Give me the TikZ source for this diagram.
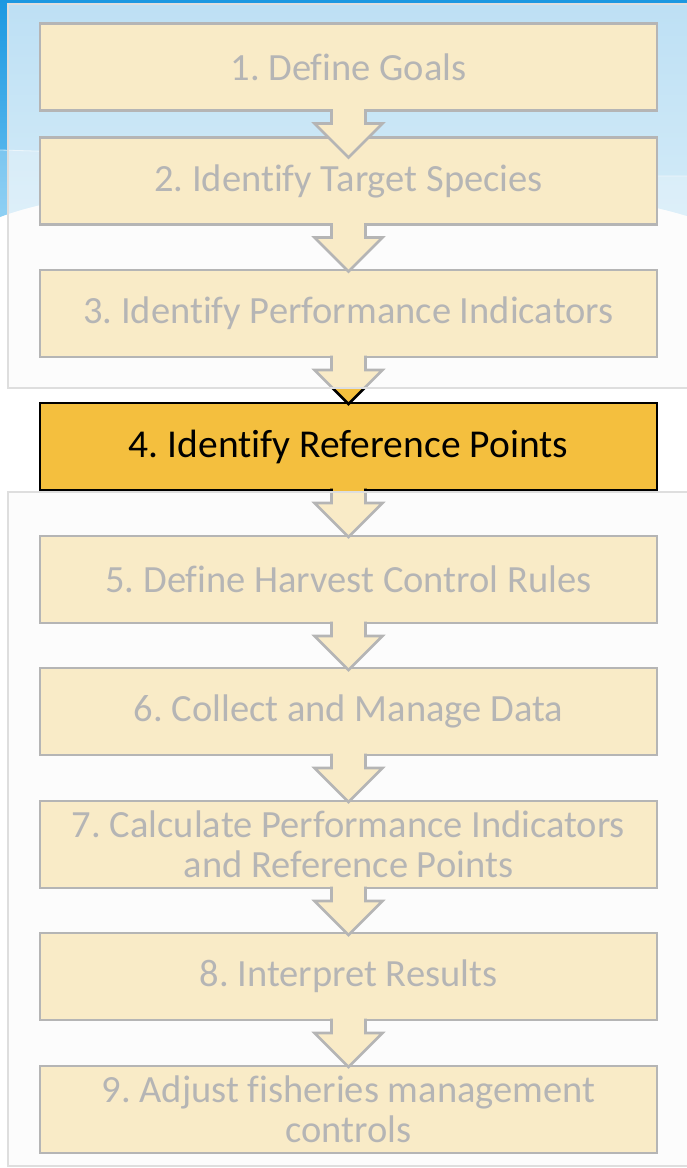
\documentclass[tikz,border=0pt]{standalone}
\usepackage{fontspec}
\setmainfont{Carlito}[Ligatures=NoCommon]
\usetikzlibrary{calc}
\frenchspacing
\definecolor{boxfill}{RGB}{244,191,62}
\definecolor{skytop}{RGB}{28,152,225}
\definecolor{skybot}{RGB}{105,192,240}
\definecolor{panelline}{RGB}{222,222,222}
\definecolor{overlaycol}{RGB}{252,252,252}
\newcommand{\steparrow}[1]{%
  \fill[arrowfill] ($(#1.south)+(-17,-2)$) -- ++(0,15) -- ++(-17,0) -- ++(34,34) -- ++(34,-34) -- ++(-17,0) -- ++(0,-15) -- cycle;
  \draw[arrowline] ($(#1.south)+(-17,-1.3)$) -- ++(0,14.3) -- ++(-17,0) -- ++(34,34) -- ++(34,-34) -- ++(-17,0) -- ++(0,-14.3);}
\begin{document}
\begin{tikzpicture}[x=1pt,y=-1pt,
  stepbox/.style={draw=black, line width=2.6pt, fill=boxfill, minimum width=617pt, minimum height=87pt,
    inner sep=0pt, outer sep=0pt, align=center, font=\fontsize{38.5}{40}\selectfont\frenchspacing, text=black},
  hibox/.style={stepbox, font=\fontsize{39.5}{44}\selectfont\frenchspacing},
  arrowfill/.style={fill=boxfill},
  arrowline/.style={draw=black, line width=2.6pt},
  panel/.style={fill=overlaycol, fill opacity=0.72, draw=panelline, line width=2pt}]
\useasboundingbox (0,0) rectangle (687,1168);
\fill[white] (0,0) rectangle (687,1168);
% sky
\shade[top color=skytop, bottom color=skybot] (0,0) -- (687,0) -- (687,216) .. controls (520,165) and (120,170) .. (0,217) -- cycle;
\fill[white, opacity=0.25] (0,150) .. controls (200,155) and (450,176) .. (687,176) -- (687,216) .. controls (520,165) and (120,170) .. (0,217) -- cycle;
\draw[white, opacity=0.6, line width=0.8pt] (0,150) .. controls (200,155) and (450,176) .. (687,176);
% boxes
\node[stepbox] (b1) at (348.5,67) {1. Define Goals};
\node[stepbox] (b2) at (348.5,181) {2. Identify Target Species};
\node[stepbox] (b3) at (348.5,313.5) {3. Identify Performance Indicators};
\node[hibox] (b4) at (348.5,446.5) {4. Identify Reference Points};
\node[stepbox] (b5) at (348.5,579.5) {5. Define Harvest Control Rules};
\node[stepbox] (b6) at (348.5,711.5) {6. Collect and Manage Data};
\node[stepbox] (b7) at (348.5,844.5) {7. Calculate Performance Indicators\\and Reference Points};
\node[stepbox] (b8) at (348.5,976.5) {8. Interpret Results};
\node[stepbox] (b9) at (348.5,1109.5) {9. Adjust fisheries management\\controls};
% arrows
\steparrow{b1}
\steparrow{b2}
\steparrow{b3}
\steparrow{b4}
\steparrow{b5}
\steparrow{b6}
\steparrow{b7}
\steparrow{b8}
% wash-out panels
\path[panel] (8,4) rectangle (700,388);
\path[panel] (8,492) rectangle (700,1166);
\end{tikzpicture}
\end{document}
